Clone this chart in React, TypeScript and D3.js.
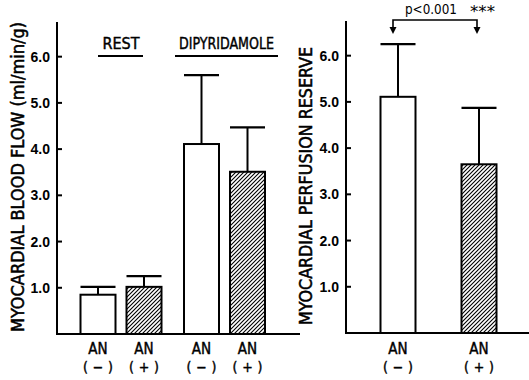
import React from "react";
import * as d3 from "d3";

const groups = ["REST", "DIPYRIDAMOLE"];
const categories = ["AN(−)", "AN(+)"];
const restMean = [0.85, 1.02];
const restSD = [0.17, 0.23];
const dipMean = [4.11, 3.51];
const dipSD = [1.49, 0.96];
const reserveMean = [5.11, 3.65];
const reserveSD = [1.14, 1.22];
const pLabel = "p<0.001";
const stars = "***";

const W = 529;
const H = 380;
const barW = 35;
const font = "'Liberation Sans Narrow', 'DejaVu Sans Condensed', 'Liberation Sans', sans-serif";

const Hatch = () => (
  <pattern id="hatch" width="4" height="4" patternUnits="userSpaceOnUse">
    <path d="M-1,1 l2,-2 M0,4 l4,-4 M3,5 l2,-2" stroke="#000" strokeWidth={1.1} />
  </pattern>
);

// one bar with error bar on top
const Bar = ({ cx, mean, sd, hatched, y }) => {
  const x0 = cx - barW / 2;
  return (
    <g>
      <line x1={cx} x2={cx} y1={y(mean)} y2={y(mean + sd)} stroke="#000" strokeWidth={2} />
      <line x1={x0} x2={x0 + barW} y1={y(mean + sd)} y2={y(mean + sd)} stroke="#000" strokeWidth={2.2} />
      <rect x={x0} y={y(mean)} width={barW} height={y(0) - y(mean)} fill={hatched ? "url(#hatch)" : "#fff"} stroke="#000" strokeWidth={2} />
    </g>
  );
};

const XLabel = ({ cx, cat }) => (
  <g fontFamily={font} fontSize={15} textAnchor="middle" stroke="#000" strokeWidth={0.4}>
    <text x={cx} y={354}>AN</text>
    <text x={cx} y={372} fontSize={14} textLength={30} lengthAdjust="spacing">{cat.includes("−") ? "(−)" : "(+)"}</text>
  </g>
);

const YAxis = ({ x, y, xEnd }) => {
  const ticks = y.ticks(6).filter((t) => t > 0);
  const [bottom, top] = y.range();
  return (
    <g>
      <line x1={x} x2={x} y1={top} y2={bottom} stroke="#000" strokeWidth={2} />
      <line x1={x - 1} x2={xEnd} y1={bottom} y2={bottom} stroke="#000" strokeWidth={2} />
      {ticks.map((t) => (
        <g key={t}>
          <line x1={x} x2={x + 5} y1={y(t)} y2={y(t)} stroke="#000" strokeWidth={2} />
          <text x={x - 7} y={y(t)} dy="0.36em" textAnchor="end" fontFamily="'Liberation Sans', sans-serif" fontWeight="bold" fontSize={14}>
            {d3.format(".1f")(t)}
          </text>
        </g>
      ))}
    </g>
  );
};

export default function App() {
  const yL = d3.scaleLinear().domain([0, 6.75]).range([334, 22]);
  const yR = d3.scaleLinear().domain([0, 6.75]).range([333, 21]);

  const xGroup = d3.scalePoint().domain(groups).range([121, 224.5]);
  const xInner = d3.scalePoint().domain(categories).range([-23, 23]);
  const xR = d3.scalePoint().domain(categories).range([398, 479]);

  const leftData = [
    { g: groups[0], mean: restMean, sd: restSD },
    { g: groups[1], mean: dipMean, sd: dipSD },
  ];

  const bx1 = xR(categories[0]);
  const bx2 = xR(categories[1]);

  return (
    <svg width={W} height={H} style={{ position: "absolute", left: 0, top: 0, background: "#fff" }}>
      <defs>
        <Hatch />
      </defs>

      {/* left panel */}
      <YAxis x={57} y={yL} xEnd={300} />
      {leftData.map((d) =>
        categories.map((c, i) => (
          <Bar key={d.g + c} cx={xGroup(d.g) + xInner(c)} mean={d.mean[i]} sd={d.sd[i]} hatched={i === 1} y={yL} />
        ))
      )}
      {leftData.map((d) =>
        categories.map((c) => <XLabel key={"l" + d.g + c} cx={xGroup(d.g) + xInner(c)} cat={c} />)
      )}
      <g fontFamily={font} fontSize={15} textAnchor="middle" stroke="#000" strokeWidth={0.4}>
        <text x={xGroup(groups[0])} y={49} textLength={37} lengthAdjust="spacingAndGlyphs">{groups[0]}</text>
        <text x={xGroup(groups[1]) + 2} y={49} textLength={95} lengthAdjust="spacingAndGlyphs">{groups[1]}</text>
      </g>
      <line x1={98} x2={143} y1={56} y2={56} stroke="#000" strokeWidth={2} />
      <line x1={175} x2={278} y1={56} y2={56} stroke="#000" strokeWidth={2} />
      <text
        transform="translate(24,177) rotate(-90)"
        textAnchor="middle"
        fontFamily={font}
        fontSize={17}
        stroke="#000"
        strokeWidth={0.5}
        textLength={310}
        lengthAdjust="spacingAndGlyphs"
      >
        MYOCARDIAL BLOOD FLOW (ml/min/g)
      </text>

      {/* right panel */}
      <YAxis x={346} y={yR} xEnd={529} />
      {categories.map((c, i) => (
        <Bar key={"r" + c} cx={xR(c)} mean={reserveMean[i]} sd={reserveSD[i]} hatched={i === 1} y={yR} />
      ))}
      {categories.map((c) => (
        <XLabel key={"rl" + c} cx={xR(c)} cat={c} />
      ))}
      <text
        transform="translate(312,186) rotate(-90)"
        textAnchor="middle"
        fontFamily={font}
        fontSize={17}
        stroke="#000"
        strokeWidth={0.5}
        textLength={278}
        lengthAdjust="spacingAndGlyphs"
      >
        MYOCARDIAL PERFUSION RESERVE
      </text>

      {/* significance bracket */}
      <g stroke="#000" strokeWidth={1.6} fill="none">
        <path d={`M${bx1 - 5},29 V20 H${bx2 - 2} V29`} />
      </g>
      <path d={`M${bx1 - 8.5},27 L${bx1 - 1.5},27 L${bx1 - 5},34 Z`} fill="#000" />
      <path d={`M${bx2 - 5.5},27 L${bx2 + 1.5},27 L${bx2 - 2},34 Z`} fill="#000" />
      <text x={405} y={14} fontFamily={font} fontSize={14} textLength={52} lengthAdjust="spacingAndGlyphs">{pLabel}</text>
      <text x={470} y={17} fontFamily={font} fontSize={15} textLength={25} lengthAdjust="spacingAndGlyphs">{stars}</text>
    </svg>
  );
}
